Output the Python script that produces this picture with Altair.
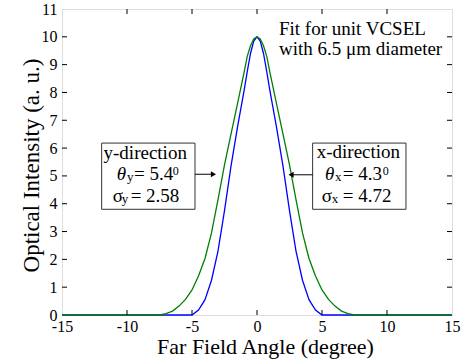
import altair as alt
import pandas as pd

# ---- data ----
x_blue = [-15, -5, -4.5, -4, -3.5, -3, -2.5, -2, -1.5, -1, -0.75, -0.5, -0.25, 0,
          0.25, 0.5, 0.75, 1, 1.5, 2, 2.5, 3, 3.5, 4, 4.5, 5, 15]
y_blue = [0, 0, 0.18, 0.55, 1.25, 2.3, 3.75, 5.35, 6.75, 8.05, 8.75, 9.4, 9.85, 10,
          9.85, 9.4, 8.75, 8.05, 6.75, 5.35, 3.75, 2.3, 1.25, 0.55, 0.18, 0, 0]

x_green = [-15, -7.5, -7, -6.5, -6, -5.5, -5, -4.5, -4, -3.5, -3, -2.5, -2, -1.5, -1,
           -0.75, -0.5, -0.25, 0, 0.25, 0.5, 0.75, 1, 1.5, 2, 2.5, 3, 3.5, 4, 4.5,
           5, 5.5, 6, 6.5, 7, 7.5, 15]
y_green = [0, 0, 0.05, 0.14, 0.32, 0.56, 0.9, 1.4, 2.03, 2.95, 4.15, 5.4, 6.5, 7.6, 8.7,
           9.3, 9.68, 9.92, 10, 9.92, 9.68, 9.3, 8.7, 7.6, 6.5, 5.4, 4.15, 2.95, 2.03, 1.4,
           0.9, 0.56, 0.32, 0.14, 0.05, 0, 0]

x_ticks = [-15, -10, -5, 0, 5, 10, 15]
y_ticks = [0, 1, 2, 3, 4, 5, 6, 7, 8, 9, 10, 11]
x_inner_ticks = [-10, -5, 0, 5, 10]
y_inner_ticks = [1, 2, 3, 4, 5, 6, 7, 8, 9, 10]

W, H = 390, 306
FONT = "Liberation Serif"

df = pd.concat([
    pd.DataFrame({"angle": x_blue, "intensity": y_blue, "series": "x-direction", "order": 0}),
    pd.DataFrame({"angle": x_green, "intensity": y_green, "series": "y-direction", "order": 1}),
])

xs = alt.Scale(domain=[-15, 15], nice=False, zero=False)
ys = alt.Scale(domain=[0, 11], nice=False, zero=False)

x_axis = alt.Axis(
    values=x_ticks, ticks=False, grid=False, domain=False, labelOverlap=False,
    labelFont=FONT, labelFontSize=16, labelColor="black", labelPadding=3,
    labelExpr="datum.value < 0 ? '-' + abs(datum.value) : '' + datum.value",
    labelFlush=False,
    title="Far Field Angle (degree)", titleFont=FONT, titleFontSize=22,
    titleFontWeight="normal", titleColor="black",
    titleBaseline="alphabetic", titleY=38, titleX=W / 2 + 8)
y_axis = alt.Axis(
    values=y_ticks, ticks=False, grid=False, domain=False, labelOverlap=False,
    labelFont=FONT, labelFontSize=16, labelColor="black", labelPadding=5,
    labelFlush=False,
    title="Optical Intensity (a. u.)", titleFont=FONT, titleFontSize=23,
    titleFontWeight="normal", titleColor="black",
    titleBaseline="alphabetic", titleX=-24, titleY=H / 2 + 3)


def X(field):
    return alt.X(field, scale=xs, axis=x_axis)


def Y(field):
    return alt.Y(field, scale=ys, axis=y_axis)


lines = alt.Chart(df).mark_line(strokeWidth=1.3).encode(
    x=X("angle:Q"),
    y=Y("intensity:Q"),
    color=alt.Color("series:N", scale=alt.Scale(domain=["x-direction", "y-direction"],
                                                range=["#0000ff", "#008000"]), legend=None),
    order="order:Q",
)

# inward ticks on all four sides
xt = pd.DataFrame({"t": x_inner_ticks})
yt = pd.DataFrame({"t": y_inner_ticks})
tb = alt.Chart(xt).mark_rule(color="black", strokeWidth=1).encode(
    x=X("t:Q"), y=alt.value(H), y2=alt.value(H - 5))
tt = alt.Chart(xt).mark_rule(color="black", strokeWidth=1).encode(
    x=X("t:Q"), y=alt.value(0), y2=alt.value(5))
tl = alt.Chart(yt).mark_rule(color="black", strokeWidth=1).encode(
    y=Y("t:Q"), x=alt.value(0), x2=alt.value(5))
tr = alt.Chart(yt).mark_rule(color="black", strokeWidth=1).encode(
    y=Y("t:Q"), x=alt.value(W), x2=alt.value(W - 5))

# annotation boxes
box_x1 = [-11.95, 4.28]
box_x2 = [-4.77, 11.46]
box_y1 = [3.8, 3.8]
box_y2 = [6.18, 6.18]
boxes = alt.Chart(pd.DataFrame({"x1": box_x1, "x2": box_x2, "y1": box_y1, "y2": box_y2})).mark_rect(
    fill="white", stroke="#333333", strokeWidth=1).encode(
    x=X("x1:Q"), x2="x2:Q", y=Y("y1:Q"), y2="y2:Q")

# arrows
arr_x1 = [-4.77, 4.28]
arr_x2 = [-3.4, 2.7]
arr_y = [5.06, 5.04]
arrows = alt.Chart(pd.DataFrame({"x1": arr_x1, "x2": arr_x2, "y": arr_y})).mark_rule(
    color="black", strokeWidth=1).encode(
    x=X("x1:Q"), x2="x2:Q", y=Y("y:Q"))
head_x = [-3.35, 2.62]
head_y = [5.06, 5.04]
head_shape = ["triangle-right", "triangle-left"]
heads = alt.Chart(pd.DataFrame({"x": head_x, "y": head_y, "s": head_shape})).mark_point(
    filled=True, color="black", size=35, opacity=1).encode(
    x=X("x:Q"), y=Y("y:Q"),
    shape=alt.Shape("s:N", scale=None))

# texts
center_text = ["y-direction", "x-direction"]
center_x = [-8.6, 7.8]
center_y = [5.6, 5.63]

left_text = ["Fit for unit VCSEL", "with 6.5 μm diameter",
             "σ", "= 5.4", "= 2.58", "σ", "= 4.3", "= 4.72"]
left_x = [1.69, 1.69, -11.1, -9.46, -9.72, 4.98, 6.59, 6.59]
left_y = [10.08, 9.36, 4.07, 4.85, 4.07, 4.07, 4.85, 4.07]

theta_text = ["θ", "θ"]
theta_x = [-10.79, 5.23]
theta_y = [4.85, 4.85]

sub_text = ["y", "y", "x", "x"]
sub_x = [-10.0, -10.41, 6.0, 5.75]
sub_y = [4.80, 4.03, 4.82, 4.04]

sup_text = ["0", "0"]
sup_x = [-6.48, 9.68]
sup_y = [5.04, 5.04]


def text_layer(texts, xv, yv, size, align="left", style="normal"):
    d = pd.DataFrame({"t": texts, "x": xv, "y": yv})
    return alt.Chart(d).mark_text(font=FONT, fontSize=size, color="black", align=align,
                                  baseline="alphabetic", fontStyle=style).encode(
        x=X("x:Q"), y=Y("y:Q"), text="t:N")


txt_c = text_layer(center_text, center_x, center_y, 19, "center")
txt_l = text_layer(left_text, left_x, left_y, 19, "left")
txt_th = text_layer(theta_text, theta_x, theta_y, 19, "left", "italic")
txt_sub = text_layer(sub_text, sub_x, sub_y, 13, "left")
txt_sup = text_layer(sup_text, sup_x, sup_y, 12, "left")

chart = alt.layer(
    lines, tb, tt, tl, tr, boxes, arrows, heads, txt_c, txt_l, txt_th, txt_sub, txt_sup
).properties(
    width=W, height=H,
    autosize=alt.AutoSizeParams(type="none"),
    padding={"left": 62, "top": 9, "right": 12, "bottom": 49},
).configure_view(stroke="black", strokeWidth=1.2).configure(background="white", font=FONT)

chart.save("out.html", embed_options={"renderer": "svg", "actions": False})
